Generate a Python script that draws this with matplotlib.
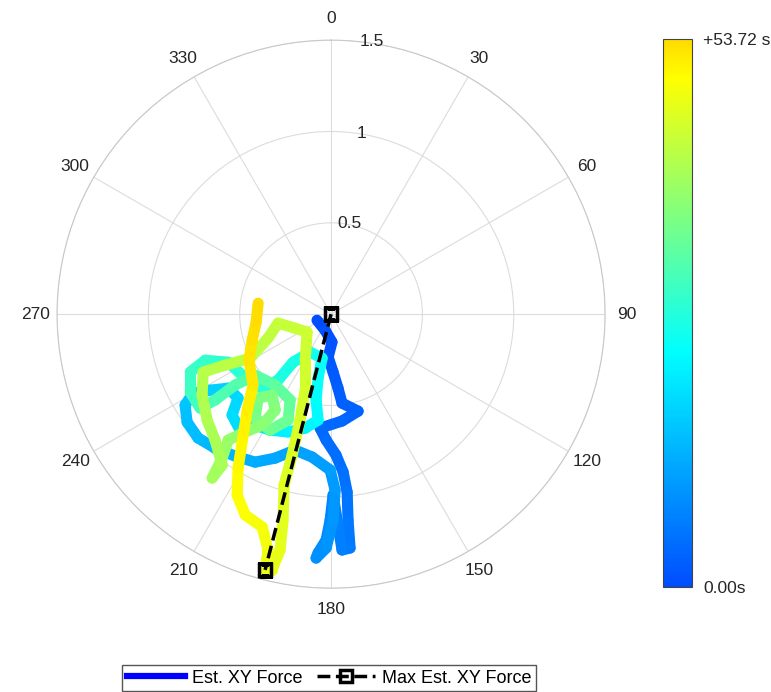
import numpy as np
import matplotlib
matplotlib.use("Agg")
import matplotlib.pyplot as plt
from matplotlib.collections import LineCollection
from matplotlib.colors import LinearSegmentedColormap, Normalize
from matplotlib.lines import Line2D

plt.rcParams['font.family'] = ['Liberation Sans', 'DejaVu Sans']

# estimated XY force components (x to the right / 90 deg, y up / 0 deg) and time stamps
force_x = [-0.077, -0.033, 0.005, -0.016, 0.011, 0.038, 0.060, 0.148, 0.060, -0.060,
           -0.027, 0.027, 0.066, 0.088, 0.093, 0.104, 0.060, 0.038, 0.011, -0.005,
           -0.027, -0.071, -0.082, -0.027, 0.011, 0.022, -0.005, -0.104, -0.197, -0.306,
           -0.416, -0.525, -0.635, -0.728, -0.788, -0.799, -0.755, -0.662, -0.563, -0.509,
           -0.542, -0.498, -0.416, -0.334, -0.235, -0.142, -0.071, -0.082, -0.071, -0.049,
           -0.115, -0.208, -0.290, -0.377, -0.470, -0.563, -0.689, -0.771, -0.771, -0.717,
           -0.635, -0.525, -0.416, -0.306, -0.224, -0.235, -0.334, -0.416, -0.399, -0.323,
           -0.306, -0.377, -0.470, -0.563, -0.596, -0.651, -0.596, -0.635, -0.678, -0.706,
           -0.700, -0.580, -0.443, -0.345, -0.290, -0.197, -0.131, -0.142, -0.142, -0.170,
           -0.213, -0.257, -0.263, -0.279, -0.323, -0.361, -0.345, -0.377, -0.470, -0.514,
           -0.509, -0.481, -0.459, -0.427, -0.449, -0.432, -0.410, -0.399]
force_y = [-0.033, -0.088, -0.153, -0.235, -0.317, -0.405, -0.487, -0.531, -0.585, -0.624,
           -0.689, -0.771, -0.864, -0.974, -1.127, -1.280, -1.291, -1.154, -0.990, -1.127,
           -1.236, -1.307, -1.335, -1.280, -1.127, -0.963, -0.853, -0.782, -0.744, -0.788,
           -0.810, -0.777, -0.733, -0.678, -0.591, -0.498, -0.432, -0.416, -0.405, -0.459,
           -0.552, -0.635, -0.607, -0.635, -0.645, -0.624, -0.580, -0.470, -0.350, -0.241,
           -0.208, -0.263, -0.361, -0.405, -0.350, -0.263, -0.252, -0.317, -0.427, -0.514,
           -0.470, -0.388, -0.334, -0.388, -0.470, -0.580, -0.635, -0.569, -0.459, -0.443,
           -0.525, -0.607, -0.645, -0.689, -0.788, -0.897, -0.826, -0.689, -0.580, -0.443,
           -0.317, -0.279, -0.241, -0.131, -0.049, -0.077, -0.098, -0.252, -0.416, -0.580,
           -0.771, -0.935, -1.127, -1.291, -1.400, -1.400, -1.291, -1.165, -1.099, -0.990,
           -0.842, -0.662, -0.525, -0.388, -0.252, -0.142, -0.044, 0.060]
time_s = [0.0, 0.4, 0.8, 1.2, 1.6, 2.0, 2.4, 2.8, 3.2, 3.6,
          4.0, 4.4, 4.8, 5.2, 5.6, 6.0, 6.4, 6.8, 7.2, 7.8,
          8.2, 8.6, 8.8, 9.1, 9.5, 9.9, 10.3, 10.8, 11.2, 11.8,
          12.4, 13.0, 13.6, 14.2, 14.8, 15.4, 16.0, 16.6, 17.2, 17.8,
          18.4, 19.0, 19.8, 20.5, 21.2, 21.8, 22.4, 23.0, 23.6, 24.2,
          24.8, 25.4, 26.0, 26.6, 27.2, 27.8, 28.4, 29.0, 29.6, 30.2,
          30.8, 31.4, 32.0, 32.8, 33.4, 34.0, 34.6, 35.2, 35.8, 36.4,
          37.0, 37.6, 38.2, 38.8, 39.4, 40.0, 40.4, 40.8, 41.2, 41.6,
          42.0, 42.4, 42.8, 43.2, 43.6, 44.0, 44.4, 44.8, 45.2, 45.6,
          46.0, 46.4, 46.8, 47.2, 47.6, 47.8, 48.3, 48.8, 49.3, 49.8,
          50.3, 50.8, 51.3, 51.8, 52.3, 52.8, 53.3, 53.72]

angle_ticks = list(range(0, 360, 30))
radius_ticks = [0.5, 1.0, 1.5]
radius_labels = ['0.5', '1', '1.5']

fx = np.array(force_x)
fy = np.array(force_y)
t = np.array(time_s)
theta = np.mod(np.arctan2(fx, fy), 2 * np.pi)
r = np.hypot(fx, fy)
imax = np.argmax(r)

cmap = LinearSegmentedColormap.from_list('traj', [
    (0.0, (0.0, 0.30, 1.0)),
    (0.43, (0.0, 1.0, 1.0)),
    (0.68, (0.5, 1.0, 0.5)),
    (0.93, (1.0, 1.0, 0.0)),
    (1.0, (1.0, 0.86, 0.0))])
norm = Normalize(0, t.max())

fig = plt.figure(figsize=(7.71, 6.92), dpi=100)
ax = fig.add_axes([0.0739, 0.150, 0.711, 0.792], projection='polar')
ax.set_theta_zero_location('N')
ax.set_theta_direction(-1)

pts = np.column_stack([theta, r])
segs = np.stack([pts[:-1], pts[1:]], axis=1)
lc = LineCollection(segs, cmap=cmap, norm=norm, linewidths=8, capstyle='round', joinstyle='round')
lc.set_array((t[:-1] + t[1:]) / 2)
ax.add_collection(lc)

ax.plot([0, theta[imax]], [0, r[imax]], color='black', ls='--', lw=2.5,
        marker='s', ms=9, mfc='none', mec='black', mew=2.5, zorder=5)

ax.set_ylim(0, 1.5)
ax.set_thetagrids(angle_ticks, labels=[str(a) for a in angle_ticks], fontsize=12.5, color='#262626')
ax.set_rgrids(radius_ticks, labels=['', '', ''])
for rv, lab, a in zip(radius_ticks, radius_labels, [4, 8, 6]):
    ax.text(np.deg2rad(a), rv, lab, ha='left', va='center', fontsize=12.5, color='#262626')
ax.tick_params(axis='x', pad=5)
ax.grid(color='#dcdcdc', lw=0.8)
ax.spines['polar'].set_color('#c8c8c8')
ax.spines['polar'].set_linewidth(0.8)

cax = fig.add_axes([0.860, 0.1517, 0.0376, 0.792])
sm = plt.cm.ScalarMappable(norm=norm, cmap=cmap)
cb = fig.colorbar(sm, cax=cax)
cb.set_ticks([0, t.max()])
cb.set_ticklabels(['0.00s', '+%.2f s' % t.max()])
cb.ax.tick_params(length=0, pad=8, labelsize=12.5, labelcolor='#262626')
cb.outline.set_edgecolor('#444444')

handles = [Line2D([], [], color='blue', lw=4.5),
           Line2D([], [], color='black', ls='--', lw=2.5, marker='s', ms=8, mfc='none', mew=2.5)]
fig.legend(handles, ['Est. XY Force', 'Max Est. XY Force'], loc='lower center',
           bbox_to_anchor=(0.427, -0.012), ncol=2, fancybox=False, edgecolor='#555555',
           fontsize=13, handlelength=3.2, columnspacing=0.8, handletextpad=0.4,
           borderpad=0.25, framealpha=1)

fig.savefig('out.png', dpi=100)
